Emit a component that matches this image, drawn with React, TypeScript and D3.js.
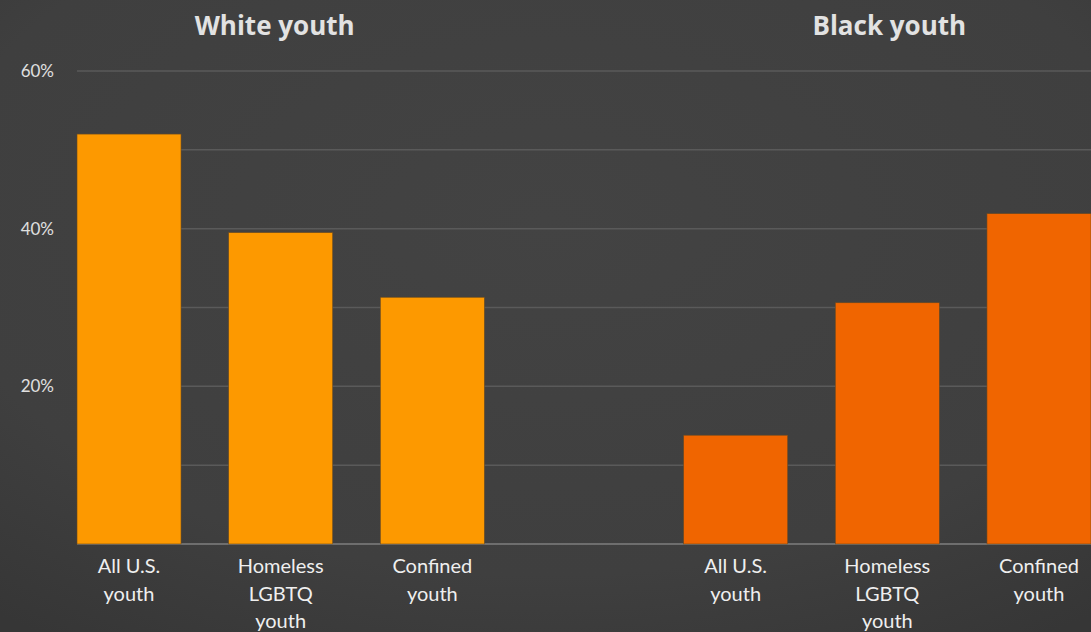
import React from "react";
import * as d3 from "d3";

const slots = ["w0", "w1", "w2", "gap", "b0", "b1", "b2"];
const whiteCategories = ["All U.S.|youth", "Homeless|LGBTQ|youth", "Confined|youth"];
const whiteValues = [52.0, 39.5, 31.3];
const blackCategories = ["All U.S.|youth", "Homeless|LGBTQ|youth", "Confined|youth"];
const blackValues = [13.8, 30.6, 41.9];
const groupTitles = ["White youth", "Black youth"];
const yTicks = [0, 10, 20, 30, 40, 50, 60];
const yTickLabels = ["", "", "20%", "", "40%", "", "60%"];

const W = 1091;
const H = 632;

export default function App() {
  const x = d3.scaleBand<string>().domain(slots).range([77, 1091]).paddingInner(0.314).paddingOuter(0);
  const y = d3.scaleLinear().domain([0, 60]).range([544, 71]);

  const bars = [
    ...whiteValues.map((v, i) => ({ key: "w" + i, v, label: whiteCategories[i], color: "#fd9900" })),
    ...blackValues.map((v, i) => ({ key: "b" + i, v, label: blackCategories[i], color: "#f06500" })),
  ];
  const font = "Lato, 'Open Sans', sans-serif";
  const titleFont = "'Open Sans', Lato, sans-serif";

  return (
    <svg width={W} height={H} style={{ position: "absolute", left: 0, top: 0 }}>
      <defs>
        <radialGradient id="bg" cx="0.5" cy="0.35" r="0.8">
          <stop offset="0" stopColor="#434343" />
          <stop offset="0.7" stopColor="#3f3f3f" />
          <stop offset="1" stopColor="#363636" />
        </radialGradient>
      </defs>
      <rect x={0} y={0} width={W} height={H} fill="url(#bg)" />
      {yTicks.map((t, i) => (
        <g key={t}>
          <line x1={77} x2={W} y1={y(t)} y2={y(t)} stroke={t === 0 ? "#6e6e6e" : "#5a5a5a"} strokeWidth={t === 0 ? 2 : 1.5} />
          {yTickLabels[i] && (
            <text x={54} y={y(t)} dy="0.36em" textAnchor="end" fill="#e0e0e0" fontSize={17} fontFamily={font}>
              {yTickLabels[i]}
            </text>
          )}
        </g>
      ))}
      {bars.map((b) => (
        <g key={b.key}>
          <rect x={x(b.key)!} y={y(b.v)} width={x.bandwidth()} height={y(0) - y(b.v)} fill={b.color} stroke="#6a4a20" strokeWidth={0.6} />
          {b.label.split("|").map((ln, j) => (
            <text key={j} x={x(b.key)! + x.bandwidth() / 2} y={573 + j * 27.5} textAnchor="middle" fill="#efefef" fontSize={20} fontFamily={font}>
              {ln}
            </text>
          ))}
        </g>
      ))}
      {groupTitles.map((t, i) => (
        <text key={t} x={x(i === 0 ? "w1" : "b1")! + x.bandwidth() / 2 - 6 + i * 8} y={35} textAnchor="middle" fill="#e2e2e2" fontSize={26} fontWeight="bold" fontFamily={titleFont}>
          {t}
        </text>
      ))}
    </svg>
  );
}
